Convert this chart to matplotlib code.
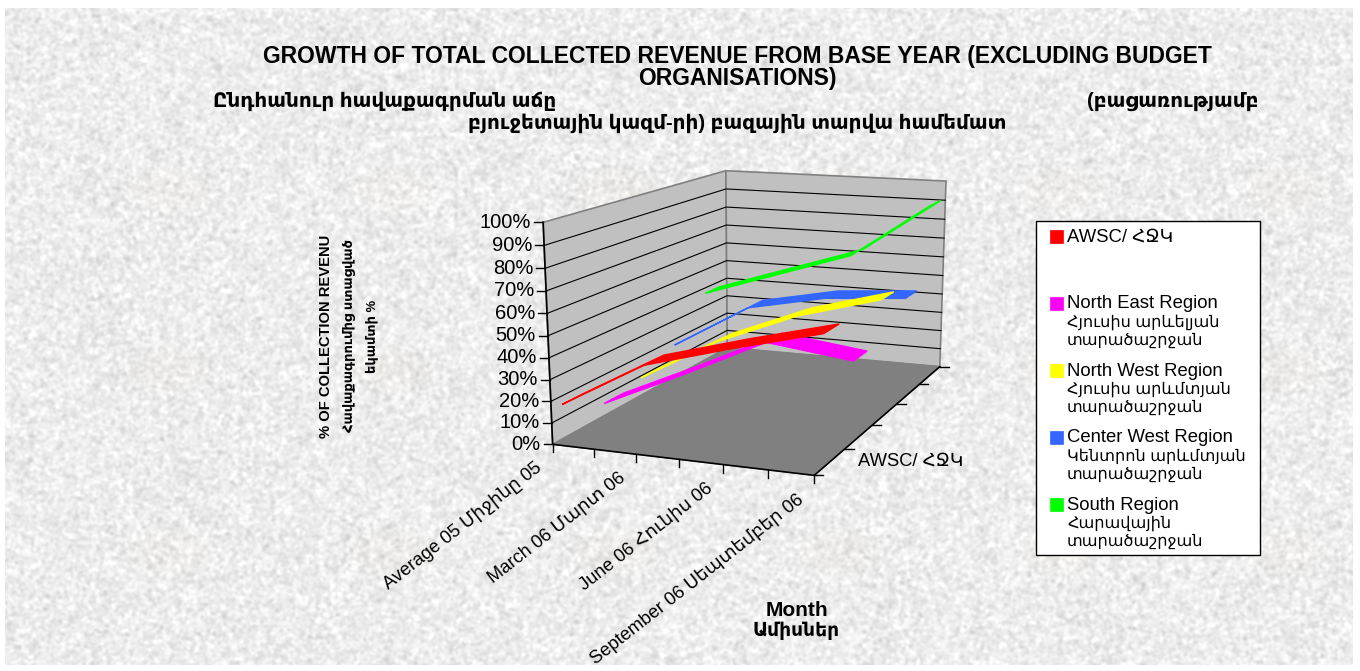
"""Growth of total collected revenue: Excel style 3D line chart, drawn with an explicit perspective.

The box corners seen in the reference fix a 3x4 projection matrix. Everything else goes through it.
"""
import matplotlib

matplotlib.use("Agg")
import matplotlib.pyplot as plt
import numpy as np
from matplotlib.patches import Polygon, Rectangle

W, H = 1360, 671
FONT = ["Liberation Sans", "DejaVu Sans"]
plt.rcParams["font.family"] = FONT

# data, back series first so the front ones paint over them
CATEGORIES = ["Average 05 Միջինը 05", "March 06 Մարտ 06", "June 06 Հունիս 06", "September 06 Սեպտեմբեր 06"]
SOUTH = [37, 50, 63, 91]
CENTER_WEST = [17, 40, 48, 51]
NORTH_WEST = [9, 31, 47, 58]
NORTH_EAST = [6, 24, 43, 38]
AWSC = [16, 38, 49, 59]
VALUE_TICKS = [0, 10, 20, 30, 40, 50, 60, 70, 80, 90, 100]

SERIES = [(SOUTH, "#00ff00", 0.9), (CENTER_WEST, "#3366ff", 0.7), (NORTH_WEST, "#ffff00", 0.5),
          (NORTH_EAST, "#ff00ff", 0.3), (AWSC, "#ff0000", 0.1)]
LEGEND = [("#ff0000", 237, ["AWSC/ ՀՋԿ"]),
          ("#ff00ff", 304, ["North East Region", "Հյուսիս արևելյան", "տարածաշրջան"]),
          ("#ffff00", 371, ["North West Region", "Հյուսիս արևմտյան", "տարածաշրջան"]),
          ("#3366ff", 438, ["Center West Region", "Կենտրոն արևմտյան", "տարածաշրջան"]),
          ("#00ff00", 505, ["South Region", "Հարավային", "տարածաշրջան"])]

# (x, depth, value) -> pixel, from the corners of the box
CORNERS = [((0, 0, 0), (553, 445)), ((1, 0, 0), (814, 475)), ((1, 1, 0), (940, 367)), ((0, 1, 0), (727, 347)),
           ((0, 0, 100), (543, 222)), ((0, 1, 100), (726, 171)), ((1, 1, 100), (946, 181))]


def fit_projection():
    rows = []
    for (x, y, z), (u, v) in CORNERS:
        p = [x, y, z / 100, 1]
        rows.append(p + [0, 0, 0, 0] + [-u * c for c in p])
        rows.append([0, 0, 0, 0] + p + [-v * c for c in p])
    return np.linalg.svd(np.array(rows, dtype=float))[2][-1].reshape(3, 4)


P = fit_projection()


def project(x, y, z):
    q = P @ np.array([x, y, z / 100, 1.0])
    return q[0] / q[2], q[1] / q[2]


def texture():
    # speckled paper background with the faint tiled smudges
    rng = np.random.default_rng(4)
    noise = rng.normal(size=(H, W))
    fx = np.fft.fftfreq(W)[None, :]
    fy = np.fft.fftfreq(H)[:, None]
    soft = np.fft.ifft2(np.fft.fft2(noise) * np.exp(-(fx ** 2 + fy ** 2) * 40)).real
    soft = soft / soft.std()
    gray = np.clip(0.93 + 0.03 * soft, 0, 1)
    rgb = np.dstack([gray, gray, gray])
    yy, xx = np.mgrid[0:H, 0:W]
    for cx in range(165, W, 225):
        for cy in (185, 370, 555):
            blob = np.exp(-((xx - cx) / 28.0) ** 2 - ((yy - cy) / 16.0) ** 2)
            rgb[:, :, 1] -= 0.01 * blob
            rgb[:, :, 2] -= 0.025 * blob
    return np.clip(rgb, 0, 1)


def main():
    fig = plt.figure(figsize=(W / 100, H / 100), dpi=100)
    ax = fig.add_axes([0, 0, 1, 1])
    ax.imshow(texture(), extent=(5, 1353, 665, 8), aspect="auto", zorder=0)
    ax.set_xlim(0, W)
    ax.set_ylim(H, 0)
    ax.axis("off")

    # walls and floor
    wall = dict(facecolor="#c0c0c0", edgecolor="#808080", lw=1.2, zorder=1)
    ax.add_patch(Polygon([project(0, 0, 0), project(0, 0, 100), project(0, 1, 100), project(0, 1, 0)], **wall))
    ax.add_patch(Polygon([project(0, 1, 0), project(0, 1, 100), project(1, 1, 100), project(1, 1, 0)], **wall))
    ax.add_patch(Polygon([project(0, 0, 0), project(1, 0, 0), project(1, 1, 0), project(0, 1, 0)],
                         facecolor="#808080", edgecolor="#808080", lw=0.8, zorder=2))
    for v in VALUE_TICKS[1:-1]:
        pts = np.array([project(0, 0, v), project(0, 1, v), project(1, 1, v)])
        ax.plot(pts[:, 0], pts[:, 1], color="black", lw=0.8, zorder=2)

    # axes and ticks
    pts = np.array([project(0, 0, 100), project(0, 0, 0), project(1, 0, 0), project(1, 1, 0)])
    ax.plot(pts[:, 0], pts[:, 1], color="black", lw=1.2, zorder=3)
    for v in VALUE_TICKS:
        x, y = project(0, 0, v)
        ax.plot([x - 9, x], [y, y], color="black", lw=1, zorder=3)
        ax.text(x - 12, y, f"{v}%", ha="right", va="center", fontsize=14.5, color="black")
    for i in range(7):
        x, y = project(i / 6, 0, 0)
        ax.plot([x, x], [y, y + 8], color="black", lw=1, zorder=3)
    for i in range(6):
        x, y = project(1, i / 5, 0)
        ax.plot([x, x + 9], [y, y], color="black", lw=1, zorder=3)
    for i, label in enumerate(CATEGORIES):
        x, y = project(i / 3, 0, 0)
        ax.text(x - 18, y + 15, label, rotation=38, rotation_mode="anchor", ha="right", va="top", fontsize=13.2)
    ax.text(858, 461, "AWSC/ ՀՋԿ", ha="left", va="center", fontsize=13.2)

    # ribbons: top face of each series, constant width in depth
    half = 0.05
    for values, color, depth in SERIES:
        xs = np.arange(len(values)) / (len(values) - 1)
        front = [project(x, depth - half, v) for x, v in zip(xs, values)]
        back = [project(x, depth + half, v) for x, v in zip(xs, values)]
        ax.add_patch(Polygon(front + back[::-1], facecolor=color, edgecolor=color, lw=1.0, zorder=4))

    # titles
    title = dict(ha="center", va="center", fontsize=16.5, fontweight="bold")
    ax.text(737, 57, "GROWTH OF TOTAL COLLECTED REVENUE FROM BASE YEAR (EXCLUDING BUDGET", **title)
    ax.text(737, 79, "ORGANISATIONS)", **title)
    ax.text(213, 101, "Ընդհանուր հավաքագրման աճը", ha="left", va="center", fontsize=14.4, fontweight="bold")
    ax.text(1259, 101, "(բացառությամբ", ha="right", va="center", fontsize=14.4, fontweight="bold")
    ax.text(737, 123, "բյուջետային կազմ-րի) բազային տարվա համեմատ", ha="center", va="center", fontsize=14.4,
            fontweight="bold")
    ax.text(326, 336, "% OF COLLECTION REVENU", rotation=90, ha="center", va="center", fontsize=10.6,
            fontweight="bold")
    ax.text(350, 336, "Հավաքագրումից ստացված", rotation=90, ha="center", va="center", fontsize=9.4,
            fontweight="bold")
    ax.text(373, 336, "եկամտի %", rotation=90, ha="center", va="center", fontsize=9.4, fontweight="bold")
    ax.text(797, 610, "Month", ha="center", va="center", fontsize=15, fontweight="bold")
    ax.text(796, 631, "Ամիսներ", ha="center", va="center", fontsize=13.4, fontweight="bold")

    # legend
    ax.add_patch(Rectangle((1036, 221), 224, 334, facecolor="white", edgecolor="black", lw=1, zorder=1))
    for color, y, lines in LEGEND:
        ax.add_patch(Rectangle((1050, y - 7), 13, 13, facecolor=color, edgecolor=color, lw=0.5, zorder=2))
        for j, line in enumerate(lines):
            size = 13.3 if j == 0 else 11.6
            ax.text(1067, y + j * 18.3, line, ha="left", va="center", fontsize=size, zorder=3)

    fig.savefig("out.png", dpi=100)


if __name__ == "__main__":
    main()
